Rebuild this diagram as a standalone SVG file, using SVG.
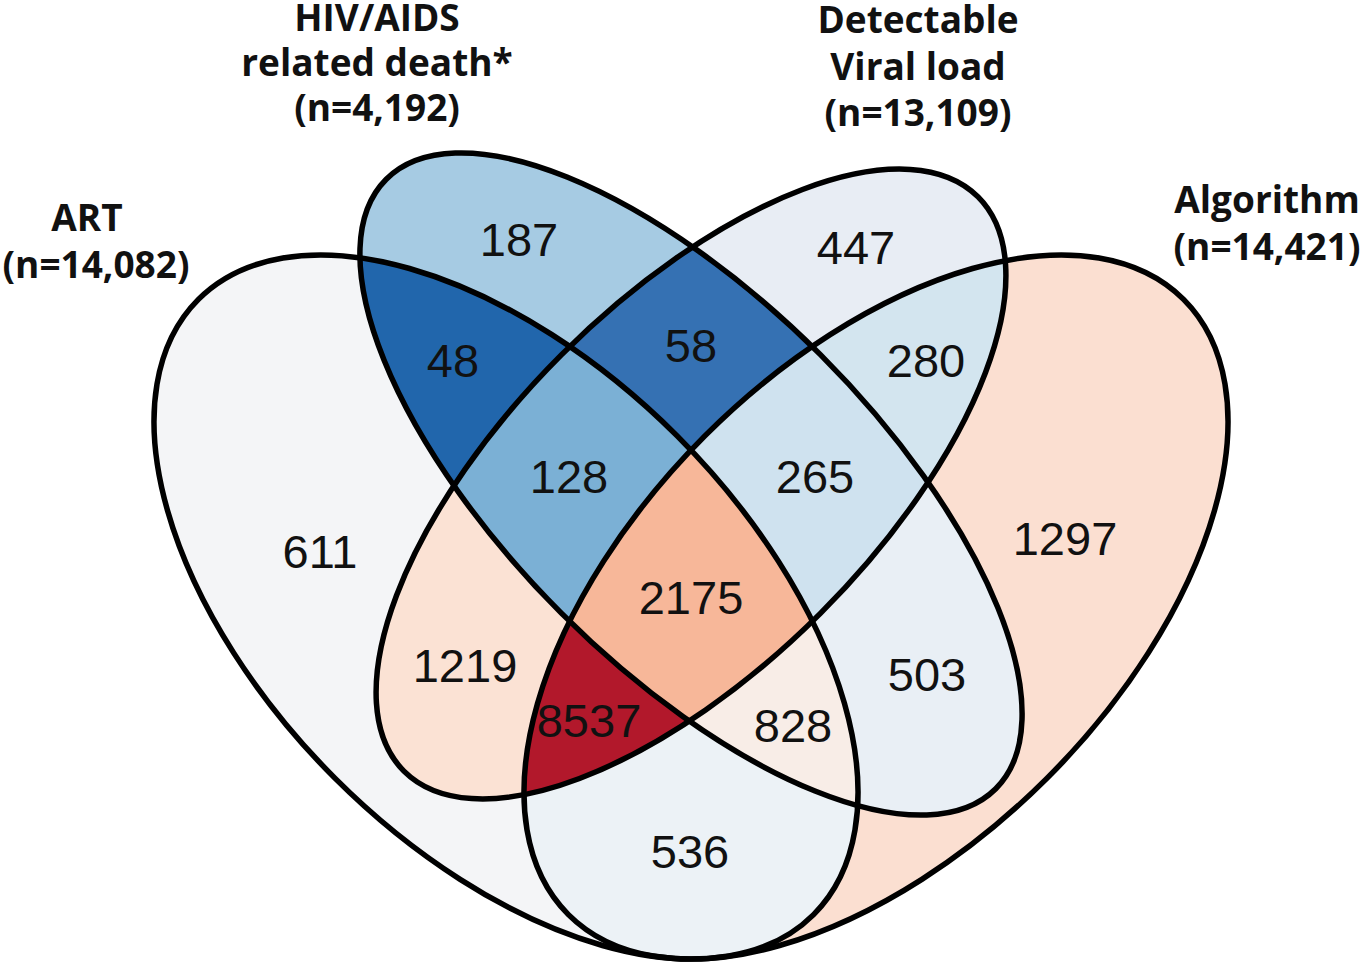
<svg xmlns="http://www.w3.org/2000/svg" width="1363" height="965" viewBox="0 0 1363 965">
<style>
.num{font-family:"Liberation Sans",Arial,sans-serif;font-size:47px;fill:#111;text-anchor:middle}
.lab{font-family:"Open Sans",Lato,sans-serif;font-weight:bold;font-size:37px;fill:#111;text-anchor:middle}
.out{fill:none;stroke:#000;stroke-width:5.5}
</style>
<defs>
<clipPath id="cA"><ellipse cx="506" cy="607" rx="435" ry="242" transform="rotate(45 506 607)"/></clipPath>
<clipPath id="cH"><ellipse cx="691" cy="484" rx="431" ry="183" transform="rotate(45 691 484)"/></clipPath>
<clipPath id="cD"><ellipse cx="691" cy="484" rx="406" ry="183" transform="rotate(-45 691 484)"/></clipPath>
<clipPath id="cG"><ellipse cx="876" cy="607" rx="435" ry="242" transform="rotate(-45 876 607)"/></clipPath>
</defs>
<rect width="1363" height="965" fill="#fff"/>
<g id="regions">
<ellipse cx="506" cy="607" rx="435" ry="242" transform="rotate(45 506 607)" fill="#f4f5f7"/>
<ellipse cx="876" cy="607" rx="435" ry="242" transform="rotate(-45 876 607)" fill="#fbdfd1"/>
<ellipse cx="691" cy="484" rx="431" ry="183" transform="rotate(45 691 484)" fill="#a6cbe3"/>
<ellipse cx="691" cy="484" rx="406" ry="183" transform="rotate(-45 691 484)" fill="#e8edf4"/>
<g clip-path="url(#cA)"><ellipse cx="691" cy="484" rx="431" ry="183" transform="rotate(45 691 484)" fill="#2166ac"/></g>
<g clip-path="url(#cA)"><ellipse cx="691" cy="484" rx="406" ry="183" transform="rotate(-45 691 484)" fill="#fbe2d4"/></g>
<g clip-path="url(#cA)"><ellipse cx="876" cy="607" rx="435" ry="242" transform="rotate(-45 876 607)" fill="#ecf2f6"/></g>
<g clip-path="url(#cH)"><ellipse cx="691" cy="484" rx="406" ry="183" transform="rotate(-45 691 484)" fill="#3571b3"/></g>
<g clip-path="url(#cH)"><ellipse cx="876" cy="607" rx="435" ry="242" transform="rotate(-45 876 607)" fill="#e9eff5"/></g>
<g clip-path="url(#cD)"><ellipse cx="876" cy="607" rx="435" ry="242" transform="rotate(-45 876 607)" fill="#d3e5ef"/></g>
<g clip-path="url(#cA)"><g clip-path="url(#cH)"><ellipse cx="691" cy="484" rx="406" ry="183" transform="rotate(-45 691 484)" fill="#7bb0d5"/></g></g>
<g clip-path="url(#cA)"><g clip-path="url(#cH)"><ellipse cx="876" cy="607" rx="435" ry="242" transform="rotate(-45 876 607)" fill="#f8ede7"/></g></g>
<g clip-path="url(#cA)"><g clip-path="url(#cD)"><ellipse cx="876" cy="607" rx="435" ry="242" transform="rotate(-45 876 607)" fill="#b2182b"/></g></g>
<g clip-path="url(#cH)"><g clip-path="url(#cD)"><ellipse cx="876" cy="607" rx="435" ry="242" transform="rotate(-45 876 607)" fill="#cfe2ef"/></g></g>
<g clip-path="url(#cA)"><g clip-path="url(#cH)"><g clip-path="url(#cD)"><ellipse cx="876" cy="607" rx="435" ry="242" transform="rotate(-45 876 607)" fill="#f7b799"/></g></g></g>
</g>
<g id="connectors"></g>
<g id="set-art">
<ellipse class="out" cx="506" cy="607" rx="435" ry="242" transform="rotate(45 506 607)"/>
<text class="lab" x="87" y="231">ART</text>
<text class="lab" x="96" y="278">(n=14,082)</text>
</g>
<g id="set-hiv">
<ellipse class="out" cx="691" cy="484" rx="431" ry="183" transform="rotate(45 691 484)"/>
<text class="lab" x="377" y="31">HIV/AIDS</text>
<text class="lab" x="377" y="76">related death*</text>
<text class="lab" x="377" y="121">(n=4,192)</text>
</g>
<g id="set-det">
<ellipse class="out" cx="691" cy="484" rx="406" ry="183" transform="rotate(-45 691 484)"/>
<text class="lab" x="918" y="33">Detectable</text>
<text class="lab" x="918" y="80">Viral load</text>
<text class="lab" x="918" y="126">(n=13,109)</text>
</g>
<g id="set-alg">
<ellipse class="out" cx="876" cy="607" rx="435" ry="242" transform="rotate(-45 876 607)"/>
<text class="lab" x="1267" y="213">Algorithm</text>
<text class="lab" x="1267" y="260">(n=14,421)</text>
</g>
<g id="counts">
<text class="num" x="519" y="256">187</text>
<text class="num" x="856" y="264">447</text>
<text class="num" x="453" y="377">48</text>
<text class="num" x="691" y="362">58</text>
<text class="num" x="926" y="377">280</text>
<text class="num" x="569" y="493">128</text>
<text class="num" x="815" y="493">265</text>
<text class="num" x="320" y="568">611</text>
<text class="num" x="1065" y="555">1297</text>
<text class="num" x="691" y="614">2175</text>
<text class="num" x="465" y="682">1219</text>
<text class="num" x="927" y="691">503</text>
<text class="num" x="589" y="737">8537</text>
<text class="num" x="793" y="742">828</text>
<text class="num" x="690" y="868">536</text>
</g>
</svg>
